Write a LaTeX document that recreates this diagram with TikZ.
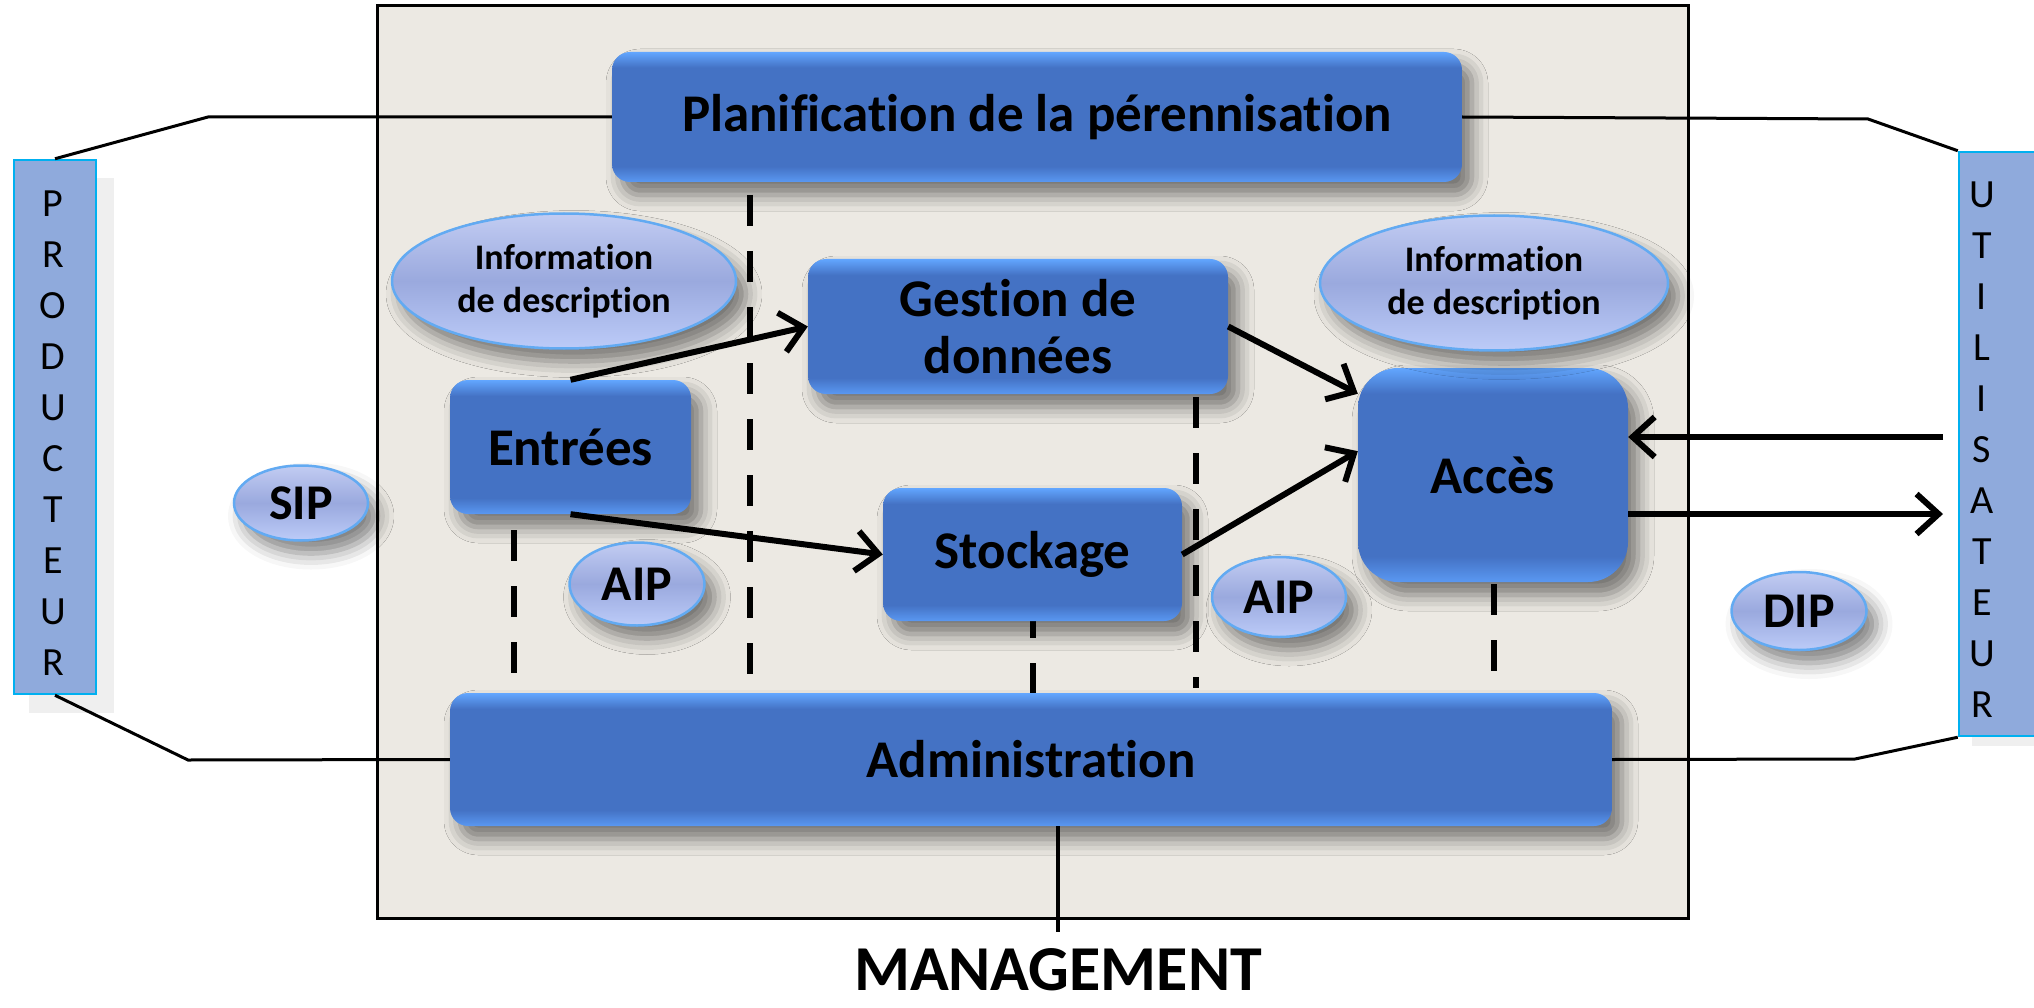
\documentclass[tikz,border=0pt]{standalone}
\usepackage{fontspec}
\setmainfont{Carlito}[Ligatures=NoCommon]
\usetikzlibrary{arrows.meta,shapes.geometric,shadows.blur,calc}
\definecolor{boxblue}{HTML}{4472C4}
\definecolor{boxlight}{HTML}{62A6FF}
\definecolor{boxlow}{HTML}{5A98F2}
\definecolor{ellmid}{HTML}{9AA9DE}
\definecolor{elltop}{HTML}{C2CCF2}
\definecolor{ellbot}{HTML}{BCCBF8}
\definecolor{ellline}{HTML}{62AAF2}
\definecolor{sidefill}{HTML}{8FAADC}
\definecolor{sideline}{HTML}{00B0F0}
\definecolor{framebg}{HTML}{ECE9E3}
\definecolor{sideshadow}{HTML}{EFEFEF}
\pgfdeclareverticalshading{bluebox}{100bp}{color(0bp)=(boxlow); color(25bp)=(boxlow); color(31bp)=(boxblue); color(69bp)=(boxblue); color(75bp)=(boxlight); color(100bp)=(boxlight)}
\pgfdeclareverticalshading{ellshade}{100bp}{color(0bp)=(ellbot); color(25bp)=(ellbot); color(50bp)=(ellmid); color(75bp)=(elltop); color(100bp)=(elltop)}
\tikzset{
  shad/.style={blur shadow={shadow xshift=10pt, shadow yshift=-13pt, shadow blur radius=16pt, shadow opacity=50}},
  bbox/.style={rectangle, rounded corners=18pt, shading=bluebox, draw=none, font=\fontsize{53}{57}\selectfont\bfseries, align=center, inner sep=0pt, shad},
  ell/.style={ellipse, shading=ellshade, draw=ellline, line width=2.5pt, inner sep=0pt, align=center, shad},
  tag/.style={ell, font=\fontsize{50}{52}\selectfont\bfseries},
  info/.style={ell, font=\fontsize{36}{43}\selectfont\bfseries},
  side/.style={rectangle, fill=sidefill, draw=sideline, line width=2.5pt, inner sep=0pt},
  sidetext/.style={font=\fontsize{40}{51}\selectfont, align=center, inner sep=0pt},
  conn/.style={line width=3pt, black},
  arr/.style={line width=6pt, black, -{Straight Barb[length=22pt, width=40pt]}},
  dsh/.style={line width=6.5pt, black, dash pattern=on 31pt off 25pt},
}
\begin{document}
\begin{tikzpicture}[x=1pt, y=-1pt]
\useasboundingbox (0,0) rectangle (2034,1008);
% frame
\draw[line width=3pt, fill=framebg] (377,6) rectangle (1688,918);
% side boxes
\fill[sideshadow] (29,178) rectangle (114,713);
\node[side, minimum width=82pt, minimum height=534pt] (prod) at (55,427) {};
\node[sidetext] (prodtxt) at (53,433) {P\\R\\O\\D\\U\\C\\T\\E\\U\\R};
\fill[sideshadow] (1972,700) rectangle (2040,746);
\node[side, minimum width=85pt, minimum height=584pt] (util) at (2001.5,444) {};
\node[sidetext] (utiltxt) at (1982,450) {U\\T\\I\\L\\I\\S\\A\\T\\E\\U\\R};
% named points
\coordinate (k1) at (208,117);
\coordinate (k2) at (188,760);
\coordinate (k3) at (1868,119);
\coordinate (k4) at (1855,759);
\coordinate (uin) at (1943,437);
\coordinate (uout) at (1943,514);
\coordinate (mgmtend) at (1058,932);
% dashed separators
\draw[dsh] (514,530) -- (514,675);
\draw[dsh] (750,195) -- (750,675);
\draw[dsh] (1196,397) -- (1196,688);
\draw[dsh] (1494,584) -- (1494,671);
\draw[dsh] (1033,607) -- (1033,693);
% boxes
\node[bbox, minimum width=850pt, minimum height=130pt] (planif) at (1037,117) {Planification de la pérennisation};
\node[bbox, minimum width=420pt, minimum height=135pt] (gestion) at (1018,326.5) {Gestion de\\données};
\node[bbox, minimum width=241pt, minimum height=134pt] (entrees) at (570.5,447) {Entrées};
\node[bbox, minimum width=299pt, minimum height=133pt] (stock) at (1032.5,554.5) {Stockage};
\node[bbox, rounded corners=40pt, minimum width=270pt, minimum height=214pt] (acces) at (1493,475) {Accès};
\node[bbox, minimum width=1162pt, minimum height=133pt] (admin) at (1031,759.5) {Administration};
% ellipses
\node[info, minimum width=344pt, minimum height=135pt] (infoL) at (564,281) {Information\\de description};
\node[info, minimum width=348pt, minimum height=135pt] (infoR) at (1494,283) {Information\\de description};
\node[tag, minimum width=134pt, minimum height=75pt] (sip) at (301,503) {SIP};
\node[tag, minimum width=135pt, minimum height=83pt] (aipL) at (637,584) {AIP};
\node[tag, minimum width=134pt, minimum height=80pt] (aipR) at (1279,597) {AIP};
\node[tag, minimum width=135pt, minimum height=78pt] (dip) at (1799,611) {DIP};
% connectors
\draw[conn] (prod.north) -- (k1) -- (planif.west);
\draw[conn] (prod.south) -- (k2) -- (admin.west);
\draw[conn] (planif.east) -- (k3) -- (util.north west);
\draw[conn] (admin.east) -- (k4) -- (util.south west);
% arrows
\draw[arr] (entrees.north) -- (gestion.west);
\draw[arr] (entrees.south) -- (stock.west);
\draw[arr] (gestion.east) -- (acces.149);
\draw[arr] (stock.east) -- (acces.170);
\draw[arr] (uin) -- (acces.east |- uin);
\draw[arr] (acces.east |- uout) -- (uout);
% management
\node[font=\fontsize{64}{70}\selectfont\bfseries, inner sep=0pt] (mgmt) at (1058,970) {MANAGEMENT};
\draw[line width=4pt] (admin.south -| mgmtend) -- (mgmtend);
\end{tikzpicture}
\end{document}
